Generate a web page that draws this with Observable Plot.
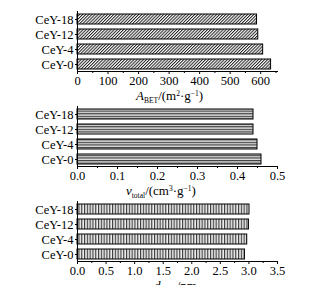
<!DOCTYPE html>
<html>
<head>
<meta charset="utf-8">
<script src="https://cdn.jsdelivr.net/npm/d3@7"></script>
<script src="https://cdn.jsdelivr.net/npm/@observablehq/plot@0.6"></script>
<style>
  body { margin: 0; background: white; }
  #chart svg { display: block; overflow: visible; }
</style>
</head>
<body>
<div id="chart"></div>
<script>
// ---- data ----
const categories = ["CeY-0", "CeY-4", "CeY-12", "CeY-18"];
const abetValues = [634, 608, 592, 588];
const vtotalValues = [0.46, 0.45, 0.44, 0.44];
const dmeanValues = [2.93, 2.97, 3.00, 3.01];

const abetTicks = [0, 100, 200, 300, 400, 500, 600];
const abetMinor = [50, 150, 250, 350, 450, 550, 650];
const vtotalTicks = [0.0, 0.1, 0.2, 0.3, 0.4, 0.5];
const vtotalMinor = [0.05, 0.15, 0.25, 0.35, 0.45];
const dmeanTicks = [0.0, 0.5, 1.0, 1.5, 2.0, 2.5, 3.0, 3.5];
const dmeanMinor = [0.25, 0.75, 1.25, 1.75, 2.25, 2.75, 3.25];

// axis titles: [text, kind] kind: i = italic, sub, sup, "" = normal
const abetTitle = [["A", "i"], ["BET", "sub"], ["/(m", ""], ["2", "sup"], ["·g", ""], ["−1", "sup"], [")", ""]];
const vtotalTitle = [["v", "i"], ["total", "sub"], ["/(cm", ""], ["3", "sup"], ["·g", ""], ["−1", "sup"], [")", ""]];
const dmeanTitle = [["d", "i"], ["mean", "sub"], ["/nm", ""]];

const panels = [
  {values: abetValues, domain: [0, 655], ticks: abetTicks, minor: abetMinor, fmt: d3.format("d"), title: abetTitle, titleX: 136, pattern: "diag"},
  {values: vtotalValues, domain: [0, 0.5], ticks: vtotalTicks, minor: vtotalMinor, fmt: d3.format(".1f"), title: vtotalTitle, titleX: 126, pattern: "horiz"},
  {values: dmeanValues, domain: [0, 3.5], ticks: dmeanTicks, minor: dmeanMinor, fmt: d3.format(".1f"), title: dmeanTitle, titleX: 154, pattern: "vert"}
];

const container = document.getElementById("chart");
const FONT = "'Liberation Serif', 'Times New Roman', serif";

panels.forEach((p, idx) => {
  const pid = "hatch" + idx;
  const data = categories.map((c, i) => ({cat: c, v: p.values[i]}));
  const svg = Plot.plot({
    width: 310, height: 95,
    marginLeft: 77, marginRight: 33, marginTop: 11, marginBottom: 24,
    x: {domain: p.domain},
    y: {domain: categories.slice().reverse(), paddingInner: 0.35, paddingOuter: 0.175},
    marks: [
      Plot.barX(data, {x: "v", y: "cat", fill: `url(#${pid})`, stroke: "#000", strokeWidth: 1}),
      Plot.frame({anchor: "bottom", stroke: "#000"}),
      Plot.ruleX([0], {stroke: "#000"}),
      Plot.axisX({ticks: p.ticks, tickFormat: p.fmt, tickSize: 3, tickPadding: 2, label: null}),
      Plot.axisX({ticks: p.minor, tickFormat: () => "", tickSize: 2, label: null}),
      Plot.axisY({tickSize: 2, tickPadding: 2, label: null})
    ]
  });
  const s = d3.select(svg);
  s.style("background", "transparent").style("overflow", "visible");
  s.selectAll("text").style("font-size", "12.5px").style("font-family", FONT).style("fill", "#000");

  const defs = s.insert("defs", ":first-child");
  if (p.pattern === "diag") {
    const pat = defs.append("pattern").attr("id", pid).attr("patternUnits", "userSpaceOnUse")
      .attr("width", 2.2).attr("height", 2.2).attr("patternTransform", "rotate(45)");
    pat.append("rect").attr("width", 2.2).attr("height", 2.2).attr("fill", "#fff");
    pat.append("line").attr("x1", 0.5).attr("y1", 0).attr("x2", 0.5).attr("y2", 2.2).attr("stroke", "#222").attr("stroke-width", 1);
  } else if (p.pattern === "horiz") {
    const pat = defs.append("pattern").attr("id", pid).attr("patternUnits", "userSpaceOnUse").attr("width", 4).attr("height", 2.6);
    pat.append("rect").attr("width", 4).attr("height", 2.6).attr("fill", "#ddd");
    pat.append("line").attr("x1", 0).attr("y1", 0.6).attr("x2", 4).attr("y2", 0.6).attr("stroke", "#333").attr("stroke-width", 1.1);
  } else {
    const pat = defs.append("pattern").attr("id", pid).attr("patternUnits", "userSpaceOnUse").attr("width", 2.8).attr("height", 4);
    pat.append("rect").attr("width", 2.8).attr("height", 4).attr("fill", "#eee");
    pat.append("line").attr("x1", 0.6).attr("y1", 0).attr("x2", 0.6).attr("y2", 4).attr("stroke", "#333").attr("stroke-width", 1.1);
  }

  // axis title with sub/superscripts
  const t = s.append("text").attr("x", p.titleX).attr("y", 100).attr("text-anchor", "start")
    .style("font-size", "13px").style("font-family", FONT).style("fill", "#000");
  let shift = 0;
  p.title.forEach(([txt, kind]) => {
    const ts = t.append("tspan").text(txt);
    let target = 0;
    if (kind === "i") ts.style("font-style", "italic");
    if (kind === "sub") { ts.style("font-size", "7.5px"); target = 3; }
    if (kind === "sup") { ts.style("font-size", "7.5px"); target = -4.5; }
    ts.attr("dy", target - shift);
    shift = target;
  });
  container.appendChild(svg);
});
</script>
</body>
</html>
